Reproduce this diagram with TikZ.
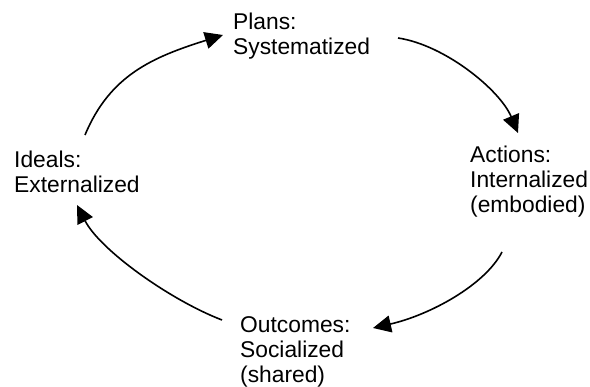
\documentclass[tikz,border=0pt]{standalone}
\usepackage{fontspec}
\setmainfont{Liberation Sans}
\usetikzlibrary{arrows.meta}
\begin{document}
\begin{tikzpicture}[x=1pt,y=-1pt,
  lbl/.style={anchor=north west,inner sep=0pt,align=left,font=\fontsize{22.8}{25}\selectfont},
  cyc/.style={line width=1.6pt,-{Triangle[length=18pt,width=17pt]}}]
\useasboundingbox (0,0) rectangle (590,387);
\node[lbl] (plans) at (233,13) {Plans:\\Systematized};
\node[lbl] (actions) at (470,146) {Actions:\\Internalized\\(embodied)};
\node[lbl] (outcomes) at (240,316) {Outcomes:\\Socialized\\(shared)};
\node[lbl] (ideals) at (14,151) {Ideals:\\Externalized};
\coordinate (i1) at (85,135);
\coordinate (p0) at (223,35);
\coordinate (p1) at (398,38);
\coordinate (a0) at (518,133);
\coordinate (a1) at (502,252);
\coordinate (o0) at (373,328);
\coordinate (o1) at (222,320);
\coordinate (i0) at (77,205);
\draw[cyc] (i1) .. controls (110,75) and (153,57) .. (p0);
\draw[cyc] (p1) .. controls (445,45) and (500,90) .. (a0);
\draw[cyc] (a1) .. controls (485,285) and (430,315) .. (o0);
\draw[cyc] (o1) .. controls (170,300) and (100,250) .. (i0);
\end{tikzpicture}
\end{document}
